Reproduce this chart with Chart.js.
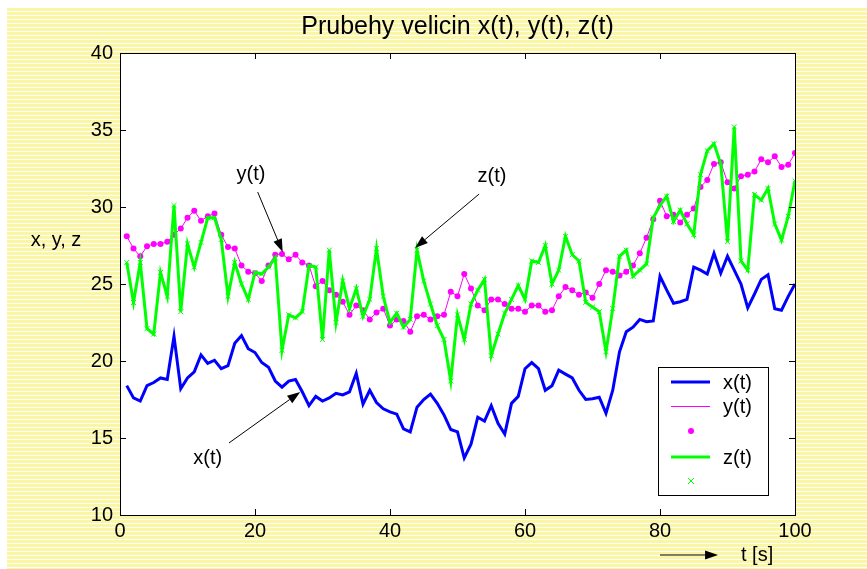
<!DOCTYPE html>
<html>
<head>
<meta charset="utf-8">
<script src="https://cdn.jsdelivr.net/npm/chart.js@4"></script>
<style>
    html, body { margin: 0; padding: 0; background: #ffffff; }
    #wrap { position: relative; width: 867px; height: 569px; overflow: hidden; }
    #stripes {
        position: absolute; left: 7px; top: 8px; right: 0; bottom: 0;
        background: repeating-linear-gradient(to bottom, #fbf6a2 0px, #fbf6a2 3px, #ffffff 3px, #ffffff 4px);
    }
    #graf { position: absolute; left: 0; top: 0; }
</style>
</head>
<body>
<div id="wrap">
    <div id="stripes"></div>
    <canvas id="graf" width="867" height="569"></canvas>
</div>
<script>
// cas [s]
const tValues = [
    1, 2, 3, 4, 5, 6, 7, 8, 9, 10, 11, 12, 13, 14, 15, 16, 17, 18, 19, 20,
    21, 22, 23, 24, 25, 26, 27, 28, 29, 30, 31, 32, 33, 34, 35, 36, 37, 38, 39, 40,
    41, 42, 43, 44, 45, 46, 47, 48, 49, 50, 51, 52, 53, 54, 55, 56, 57, 58, 59, 60,
    61, 62, 63, 64, 65, 66, 67, 68, 69, 70, 71, 72, 73, 74, 75, 76, 77, 78, 79, 80,
    81, 82, 83, 84, 85, 86, 87, 88, 89, 90, 91, 92, 93, 94, 95, 96, 97, 98, 99, 100
];

// x(t) - modra
const xValues = [
    18.4, 17.6, 17.4, 18.4, 18.6, 18.9, 18.8, 21.6, 18.2, 18.9,
    19.3, 20.4, 19.85, 20.05, 19.5, 19.7, 21.15, 21.65, 20.8, 20.55,
    19.9, 19.6, 18.7, 18.3, 18.7, 18.8, 18.0, 17.1, 17.7, 17.4,
    17.6, 17.9, 17.8, 18.0, 19.2, 17.2, 18.1, 17.3, 16.9, 16.7,
    16.55, 15.6, 15.4, 17.0, 17.5, 17.85, 17.25, 16.5, 15.55, 15.4,
    13.7, 14.6, 16.35, 16.1, 17.1, 15.95, 15.25, 17.25, 17.7, 19.5,
    19.9, 19.5, 18.1, 18.4, 19.4, 19.15, 18.9, 18.1, 17.5, 17.55,
    17.65, 16.6, 18.1, 20.6, 21.9, 22.2, 22.7, 22.55, 22.6, 25.5,
    24.6, 23.75, 23.85, 24.0, 26.1, 25.9, 25.65, 27.0, 25.7, 26.8,
    25.9, 25.0, 23.45, 24.35, 25.3, 25.6, 23.4, 23.3, 24.2, 25.0
];

// y(t) - purpurova
const yValues = [
    28.1, 27.3, 26.8, 27.45, 27.6, 27.6, 27.75, 28.2, 28.6, 29.3,
    29.76, 29.1, 29.4, 29.57, 28.2, 27.4, 27.3, 26.2, 25.8, 25.7,
    25.2, 26.2, 26.9, 26.95, 26.6, 26.9, 26.4, 26.2, 24.85, 25.2,
    24.6, 24.3, 23.85, 23.0, 23.6, 23.3, 22.7, 23.15, 23.4, 22.3,
    22.7, 22.6, 21.9, 22.9, 23.0, 22.7, 22.9, 23.0, 24.5, 24.2,
    25.65, 24.7, 23.6, 23.3, 24.0, 24.0, 23.7, 23.4, 23.4, 23.2,
    23.6, 23.6, 23.2, 23.3, 24.2, 24.8, 24.6, 24.3, 24.45, 24.1,
    25.0, 25.9, 25.8, 25.55, 25.8, 26.2, 27.0, 28.0, 29.2, 30.4,
    29.4, 29.5, 29.0, 29.5, 29.9, 31.3, 31.75, 32.8, 32.9, 31.6,
    31.2, 32.0, 32.1, 32.3, 33.1, 32.9, 33.3, 32.6, 32.75, 33.5
];

// z(t) - zelena
const zValues = [
    26.4, 23.8, 26.4, 22.1, 21.75, 25.75, 24.2, 30.1, 23.2, 27.6,
    26.1, 27.7, 29.3, 29.3, 27.9, 24.2, 26.4, 25.0, 24.0, 25.75,
    25.65, 26.1, 26.7, 20.7, 23.0, 22.8, 23.2, 26.2, 26.1, 21.4,
    27.2, 22.5, 25.2, 23.4, 24.7, 22.9, 24.0, 27.3, 24.2, 22.5,
    23.1, 22.2, 22.7, 27.2, 25.2, 23.7, 22.3, 21.4, 18.7, 23.0,
    21.4, 23.7, 24.6, 25.3, 20.35, 21.75, 23.1, 24.0, 24.9, 24.0,
    26.5, 26.4, 27.5, 25.0, 25.9, 28.1, 26.9, 26.5, 23.8, 23.5,
    23.2, 20.6, 23.4, 26.8, 27.2, 25.5, 25.9, 26.3, 29.3, 30.1,
    30.7, 29.05, 29.8, 28.9, 28.2, 32.1, 33.65, 34.1, 32.8, 27.75,
    35.2, 26.5, 25.9, 30.8, 30.45, 31.2, 28.9, 27.85, 29.4, 31.7
];

const xTicks = [0, 20, 40, 60, 80, 100];
const yTicks = [10, 15, 20, 25, 30, 35, 40];

const FONT = "'Liberation Sans', Arial, sans-serif";

function toPoints(values) {
    return tValues.map((t, i) => ({ x: t, y: values[i] }));
}

// popisky se sipkami (v jednotkach dat)
const notes = [
    { text: 'y(t)', tx: 19.4, ty: 32.08, fx: 20.4, fy: 30.97, hx: 24.1, hy: 27.08 },
    { text: 'x(t)', tx: 13.0, ty: 13.7, fx: 16.15, fy: 14.68, hx: 26.7, hy: 17.99 },
    { text: 'z(t)', tx: 55.1, ty: 31.95, fx: 53.2, fy: 30.84, hx: 43.7, hy: 27.34 }
];

function drawArrow(c, x1, y1, x2, y2) {
    const ang = Math.atan2(y2 - y1, x2 - x1);
    const len = 13, half = 4.5;
    const bx = x2 - len * Math.cos(ang), by = y2 - len * Math.sin(ang);
    c.strokeStyle = '#000';
    c.lineWidth = 1;
    c.beginPath();
    c.moveTo(x1, y1);
    c.lineTo(bx, by);
    c.stroke();
    c.fillStyle = '#000';
    c.beginPath();
    c.moveTo(x2, y2);
    c.lineTo(bx - half * Math.sin(ang), by + half * Math.cos(ang));
    c.lineTo(bx + half * Math.sin(ang), by - half * Math.cos(ang));
    c.closePath();
    c.fill();
}

const matlabLook = {
    id: 'matlabLook',
    beforeDraw(chart) {
        const a = chart.chartArea;
        const c = chart.ctx;
        c.save();
        c.fillStyle = '#ffffff';
        c.fillRect(a.left, a.top, a.right - a.left, a.bottom - a.top);
        c.restore();
    },
    afterDatasetsDraw(chart) {
        const a = chart.chartArea;
        const c = chart.ctx;
        const sx = chart.scales.x, sy = chart.scales.y;
        c.save();

        // ramecek os a znacky dovnitr
        c.strokeStyle = '#000';
        c.lineWidth = 1;
        c.strokeRect(a.left + 0.5, a.top + 0.5, a.right - a.left, a.bottom - a.top);
        c.beginPath();
        yTicks.forEach(v => {
            const p = Math.round(sy.getPixelForValue(v)) + 0.5;
            c.moveTo(a.left, p); c.lineTo(a.left + 6, p);
            c.moveTo(a.right, p); c.lineTo(a.right - 6, p);
        });
        xTicks.forEach(v => {
            const p = Math.round(sx.getPixelForValue(v)) + 0.5;
            c.moveTo(p, a.bottom); c.lineTo(p, a.bottom - 6);
            c.moveTo(p, a.top); c.lineTo(p, a.top + 6);
        });
        c.stroke();

        // popisky s sipkami
        c.font = '20px ' + FONT;
        c.fillStyle = '#000';
        c.textAlign = 'center';
        c.textBaseline = 'middle';
        notes.forEach(n => {
            c.fillText(n.text, sx.getPixelForValue(n.tx), sy.getPixelForValue(n.ty));
            drawArrow(c, sx.getPixelForValue(n.fx), sy.getPixelForValue(n.fy),
                sx.getPixelForValue(n.hx), sy.getPixelForValue(n.hy));
        });

        // popis osy y (vodorovne)
        c.fillText('x, y, z', a.left - 64, sy.getPixelForValue(27.8));

        // popis osy x se sipkou
        const ay = a.bottom + 40;
        drawArrow(c, sx.getPixelForValue(80), ay, sx.getPixelForValue(88.6), ay);
        c.textAlign = 'left';
        c.fillText('t [s]', sx.getPixelForValue(92), ay);

        // legenda
        const L = a.right - 137, T = a.bottom - 148;
        c.fillStyle = '#fff';
        c.fillRect(L, T, 110, 128);
        c.strokeStyle = '#000';
        c.lineWidth = 1;
        c.strokeRect(L + 0.5, T + 0.5, 110, 128);

        c.lineWidth = 3;
        c.strokeStyle = '#0000ff';
        c.beginPath(); c.moveTo(L + 13, T + 15); c.lineTo(L + 52, T + 15); c.stroke();
        c.lineWidth = 1;
        c.strokeStyle = '#ff00ff';
        c.beginPath(); c.moveTo(L + 13, T + 39.5); c.lineTo(L + 52, T + 39.5); c.stroke();
        c.fillStyle = '#ff00ff';
        c.beginPath(); c.arc(L + 33, T + 64, 3, 0, Math.PI * 2); c.fill();
        c.lineWidth = 3;
        c.strokeStyle = '#00ff00';
        c.beginPath(); c.moveTo(L + 13, T + 90); c.lineTo(L + 52, T + 90); c.stroke();
        c.lineWidth = 1;
        c.beginPath();
        c.moveTo(L + 30, T + 111); c.lineTo(L + 36, T + 117);
        c.moveTo(L + 36, T + 111); c.lineTo(L + 30, T + 117);
        c.stroke();

        c.fillStyle = '#000';
        c.textAlign = 'left';
        c.fillText('x(t)', L + 65, T + 16);
        c.fillText('y(t)', L + 65, T + 40);
        c.fillText('z(t)', L + 65, T + 91);

        c.restore();
    }
};

const ctx = document.getElementById('graf').getContext('2d');

new Chart(ctx, {
    type: 'line',
    data: {
        datasets: [
            {
                label: 'z(t)',
                data: toPoints(zValues),
                borderColor: '#00ff00',
                borderWidth: 3,
                pointStyle: 'crossRot',
                pointRadius: 3.5,
                pointBorderColor: '#00ff00',
                pointBorderWidth: 1,
                tension: 0,
                order: 1
            },
            {
                label: 'y(t)',
                data: toPoints(yValues),
                borderColor: '#ff00ff',
                borderWidth: 1,
                pointStyle: 'circle',
                pointRadius: 3,
                pointBackgroundColor: '#ff00ff',
                pointBorderColor: '#ff00ff',
                pointBorderWidth: 0,
                tension: 0,
                order: 2
            },
            {
                label: 'x(t)',
                data: toPoints(xValues),
                borderColor: '#0000ff',
                borderWidth: 3,
                pointRadius: 0,
                tension: 0,
                order: 3
            }
        ]
    },
    options: {
        responsive: false,
        animation: false,
        events: [],
        // okraje 48 vlevo / 0 vpravo, aby byl titulek vycentrovany nad grafem
        layout: { padding: { left: 48, right: 0, top: 0, bottom: 0 } },
        plugins: {
            legend: { display: false },
            tooltip: { enabled: false },
            title: {
                display: true,
                text: 'Prubehy velicin x(t), y(t), z(t)',
                color: '#000000',
                font: { family: FONT, size: 25, weight: 'normal' },
                padding: { top: 12, bottom: 11 }
            }
        },
        scales: {
            x: {
                type: 'linear',
                min: 0,
                max: 100,
                afterFit: s => { s.height = 54; },
                afterBuildTicks: s => { s.ticks = xTicks.map(v => ({ value: v })); },
                grid: { display: false, drawTicks: false },
                border: { display: false },
                ticks: {
                    color: '#000000',
                    padding: 4,
                    maxRotation: 0,
                    font: { family: FONT, size: 20 }
                }
            },
            y: {
                type: 'linear',
                min: 10,
                max: 40,
                afterFit: s => { s.width = 72; },
                afterBuildTicks: s => { s.ticks = yTicks.map(v => ({ value: v })); },
                grid: { display: false, drawTicks: false },
                border: { display: false },
                ticks: {
                    color: '#000000',
                    padding: 7,
                    font: { family: FONT, size: 20 }
                }
            },
            // prazdna osa vpravo - jen drzi misto
            yPravo: {
                type: 'linear',
                position: 'right',
                min: 10,
                max: 40,
                afterFit: s => { s.width = 72; },
                grid: { display: false, drawTicks: false },
                border: { display: false },
                ticks: { display: false }
            }
        }
    },
    plugins: [matlabLook]
});
</script>
</body>
</html>
